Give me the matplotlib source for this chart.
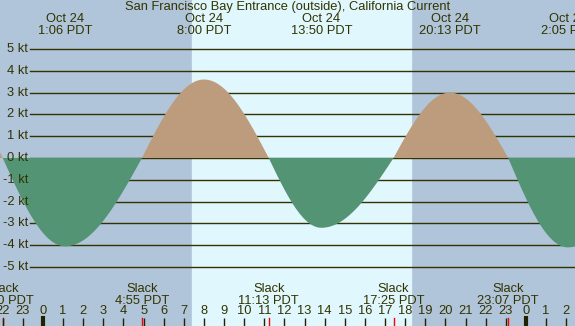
import numpy as np
import matplotlib
matplotlib.use("Agg")
import matplotlib.pyplot as plt
import matplotlib.transforms as mtransforms

# ---- data ----
title = "San Francisco Bay Entrance (outside), California Current"
# event times in hours from midnight Oct 24 and speeds (kt)
event_hours = [-5.0, -2.0, 1.1, 4.917, 8.0, 11.217, 13.833, 17.417, 20.217, 23.117, 26.083, 29.5]
event_speeds = [3.5, 0.0, -4.05, 0.0, 3.6, 0.0, -3.2, 0.0, 3.0, 0.0, -4.1, 0.0]
# labelled maxima (top)
max_hours = [1.1, 8.0, 13.833, 20.217, 26.083]
max_dates = ["Oct 24", "Oct 24", "Oct 24", "Oct 24", "Oct 25"]
max_labels = ["1:06 PDT", "8:00 PDT", "13:50 PDT", "20:13 PDT", "2:05 PDT"]
# labelled slacks (bottom)
slack_hours = [-2.0, 4.917, 11.217, 17.417, 23.117]
slack_labels = ["22:00 PDT", "4:55 PDT", "11:13 PDT", "17:25 PDT", "23:07 PDT"]
hour_ticks = list(range(-2, 27))
hour_labels = [str(h % 24) for h in hour_ticks]
kt_levels = [5, 4, 3, 2, 1, 0, -1, -2, -3, -4, -5]
sunrise, sunset = 7.40, 18.29

# ---- style ----
night_c = "#b0c4da"
day_c = "#e0f7fe"
flood_c = "#bc9c7c"
ebb_c = "#529473"
ink = "#333300"
W, H = 575, 326
x0_px, px_per_h = 43.0, 20.125
zero_px, px_per_kt = 158.0, 21.8

fig = plt.figure(figsize=(W / 100, H / 100), dpi=100)
ax = fig.add_axes([0, 0, 1, 1])
ax.set_xlim(-x0_px / px_per_h, (W - x0_px) / px_per_h)
ax.set_ylim(-(H - zero_px) / px_per_kt, zero_px / px_per_kt)
ax.axis("off")
ax.add_patch(plt.Rectangle((0, 0), 1, 1, transform=ax.transAxes, color=night_c, zorder=0))
ax.axvspan(sunrise, sunset, color=day_c, zorder=0.5)

# smooth curve through events (half-cosine between consecutive events)
t = np.linspace(event_hours[0], event_hours[-1], 4000)
v = np.zeros_like(t)
for i in range(len(event_hours) - 1):
    a, b = event_hours[i], event_hours[i + 1]
    va, vb = event_speeds[i], event_speeds[i + 1]
    m = (t >= a) & (t <= b)
    s = (t[m] - a) / (b - a)
    if va == 0:  # slack -> max : sine rise
        v[m] = vb * np.sin(s * np.pi / 2)
    else:  # max -> slack
        v[m] = va * np.cos(s * np.pi / 2)

fp = "Liberation Sans"
fs = 9.3
# grid lines
xl = ax.get_xlim()
xstart = xl[0] + 30 / px_per_h
for k in kt_levels:
    ax.plot([xstart, xl[1]], [k, k], color=ink, lw=1.0, zorder=1)
    ax.text(xstart - 2 / px_per_h, k, f"{k} kt", ha="right", va="center",
            fontsize=fs, family=fp, color=ink, zorder=3)

ax.fill_between(t, 0, v, where=v >= 0, color=flood_c, lw=0, zorder=2, interpolate=True)
ax.fill_between(t, 0, v, where=v <= 0, color=ebb_c, lw=0, zorder=2, interpolate=True)

tr = mtransforms.blended_transform_factory(ax.transData, ax.transAxes)
fy = lambda px: 1 - px / H

ax.text(0.5, fy(7), title, transform=ax.transAxes, ha="center", va="center",
        fontsize=fs, family=fp, color=ink)
for h, d, l in zip(max_hours, max_dates, max_labels):
    ax.text(h, fy(19), d, transform=tr, ha="center", va="center", fontsize=fs, family=fp, color=ink)
    ax.text(h, fy(31), l, transform=tr, ha="center", va="center", fontsize=fs, family=fp, color=ink)
for h, l in zip(slack_hours, slack_labels):
    ax.text(h, fy(289), "Slack", transform=tr, ha="center", va="center", fontsize=fs, family=fp, color=ink)
    ax.text(h, fy(301), l, transform=tr, ha="center", va="center", fontsize=fs, family=fp, color=ink)
    ax.plot([h, h], [fy(318), 0], transform=tr, color="red", lw=1.0, zorder=4)
for h, l in zip(hour_ticks, hour_labels):
    ax.text(h, fy(311), l, transform=tr, ha="center", va="center", fontsize=fs, family=fp, color=ink)
    if h % 24 == 0:
        ax.plot([h, h], [fy(316), 0], transform=tr, color="#222200", lw=3.0, zorder=4, solid_capstyle="butt")
    else:
        ax.plot([h, h], [fy(318), 0], transform=tr, color="#222200", lw=1.0, zorder=4, solid_capstyle="butt")

fig.savefig("out.png", dpi=100)
